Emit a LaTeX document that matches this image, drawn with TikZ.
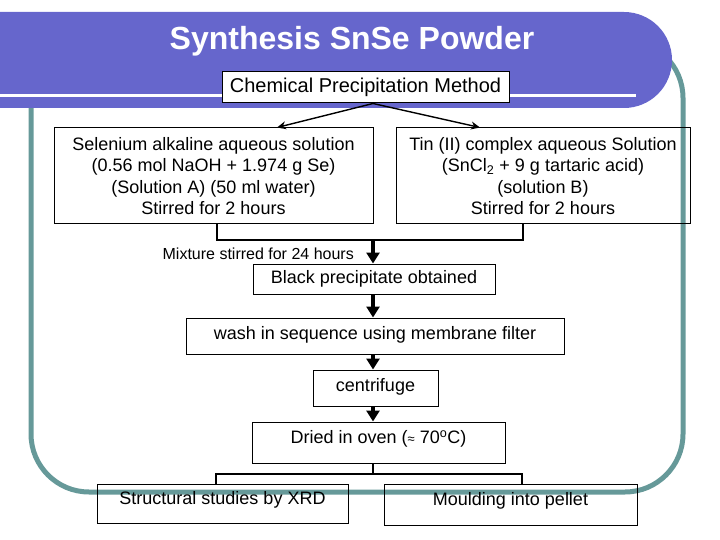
\documentclass[tikz,border=0pt]{standalone}
\usepackage{fontspec}
\setmainfont{Liberation Sans}
\usetikzlibrary{arrows.meta}
\definecolor{bannerc}{RGB}{102,102,204}
\definecolor{framec}{RGB}{102,153,153}
\begin{document}
\begin{tikzpicture}[x=1pt,y=-1pt,
  box/.style={draw=black,line width=1pt,inner sep=0pt,align=center,font=\fontsize{18}{21.5}\selectfont},
  raised/.style={text depth=11pt},
  txt/.style={inner sep=0pt,align=center,font=\fontsize{18}{21.5}\selectfont},
  bigarrow/.style={line width=3.5pt,-{Triangle[width=13pt,length=11pt]}},
  thinarrow/.style={line width=1.4pt,-{Stealth[width=8pt,length=9pt]}},
  bracket/.style={line width=2pt}]
\useasboundingbox (0,0) rectangle (720,540);
% teal frame
\draw[framec,line width=5pt,rounded corners=58pt] (31,40) rectangle (683,492);
% banner
\fill[bannerc] (0,12) -- (624,12) arc[start angle=-90,end angle=90,radius=48] -- (0,108) -- cycle;
\draw[white,line width=3pt] (0,96) -- (636,96);
\node[text=white,font=\bfseries\fontsize{32}{36}\selectfont] (title) at (352,41) {Synthesis SnSe Powder};
% boxes
\node[box,fill=white,minimum width=287pt,minimum height=31pt,font=\fontsize{20}{24}\selectfont] (cpm) at (365.5,87.5) {Chemical Precipitation Method};
\node[box,minimum width=319pt,minimum height=96pt] (sela) at (213.5,176) {Selenium alkaline aqueous solution\\(0.56 mol NaOH + 1.974 g Se)\\(Solution A) (50 ml water)\\Stirred for 2 hours};
\node[box,minimum width=294pt,minimum height=96pt] (tinb) at (543,176) {Tin (II) complex aqueous Solution\\(SnCl\textsubscript{2} + 9 g tartaric acid)\\(solution B)\\Stirred for 2 hours};
\node[box,minimum width=242pt,minimum height=30pt] (black) at (374,279) {Black precipitate obtained};
\node[box,minimum width=378pt,minimum height=36pt,text depth=7pt] (wash) at (375,336) {wash in sequence using membrane filter};
\node[box,minimum width=125pt,minimum height=36pt,text depth=7pt] (cent) at (375.5,388) {centrifuge};
\node[box,raised,minimum width=253pt,minimum height=41pt] (dried) at (378.5,442.5) {Dried in oven ({\fontsize{13}{13}\selectfont ≈} 70\textsuperscript{o}C)};
\node[box,raised,minimum width=251pt,minimum height=39pt] (struct) at (222.5,503.5) {Structural studies by XRD};
\node[box,raised,minimum width=253pt,minimum height=41pt] (mould) at (510.5,504.5) {Moulding into pellet};
\node[txt,anchor=east,font=\fontsize{16}{19}\selectfont] (mix) at (354,254) {Mixture stirred for 24 hours};
% connectors
\coordinate (spine) at (373,0);
\coordinate (j1) at (373,240);
\coordinate (j2) at (373,474);
\draw[thinarrow] ([xshift=7.5pt]cpm.south) -- ([xshift=63.5pt]sela.north);
\draw[thinarrow] ([xshift=7.5pt]cpm.south) -- ([xshift=-63pt]tinb.north);
\draw[bracket] ([xshift=3.5pt]sela.south) |- (j1) -| ([xshift=-20pt]tinb.south);
\draw[bigarrow] (j1) -- (j1 |- black.north);
\draw[bigarrow] (black.south -| spine) -- (wash.north -| spine);
\draw[bigarrow] (wash.south -| spine) -- (cent.north -| spine);
\draw[bigarrow] (cent.south -| spine) -- (dried.north -| spine);
\draw[bracket] (dried.south -| spine) -- (j2);
\draw[bracket] ([xshift=-6.5pt]struct.north) |- (j2) -| ([xshift=11.5pt]mould.north);
\end{tikzpicture}
\end{document}
